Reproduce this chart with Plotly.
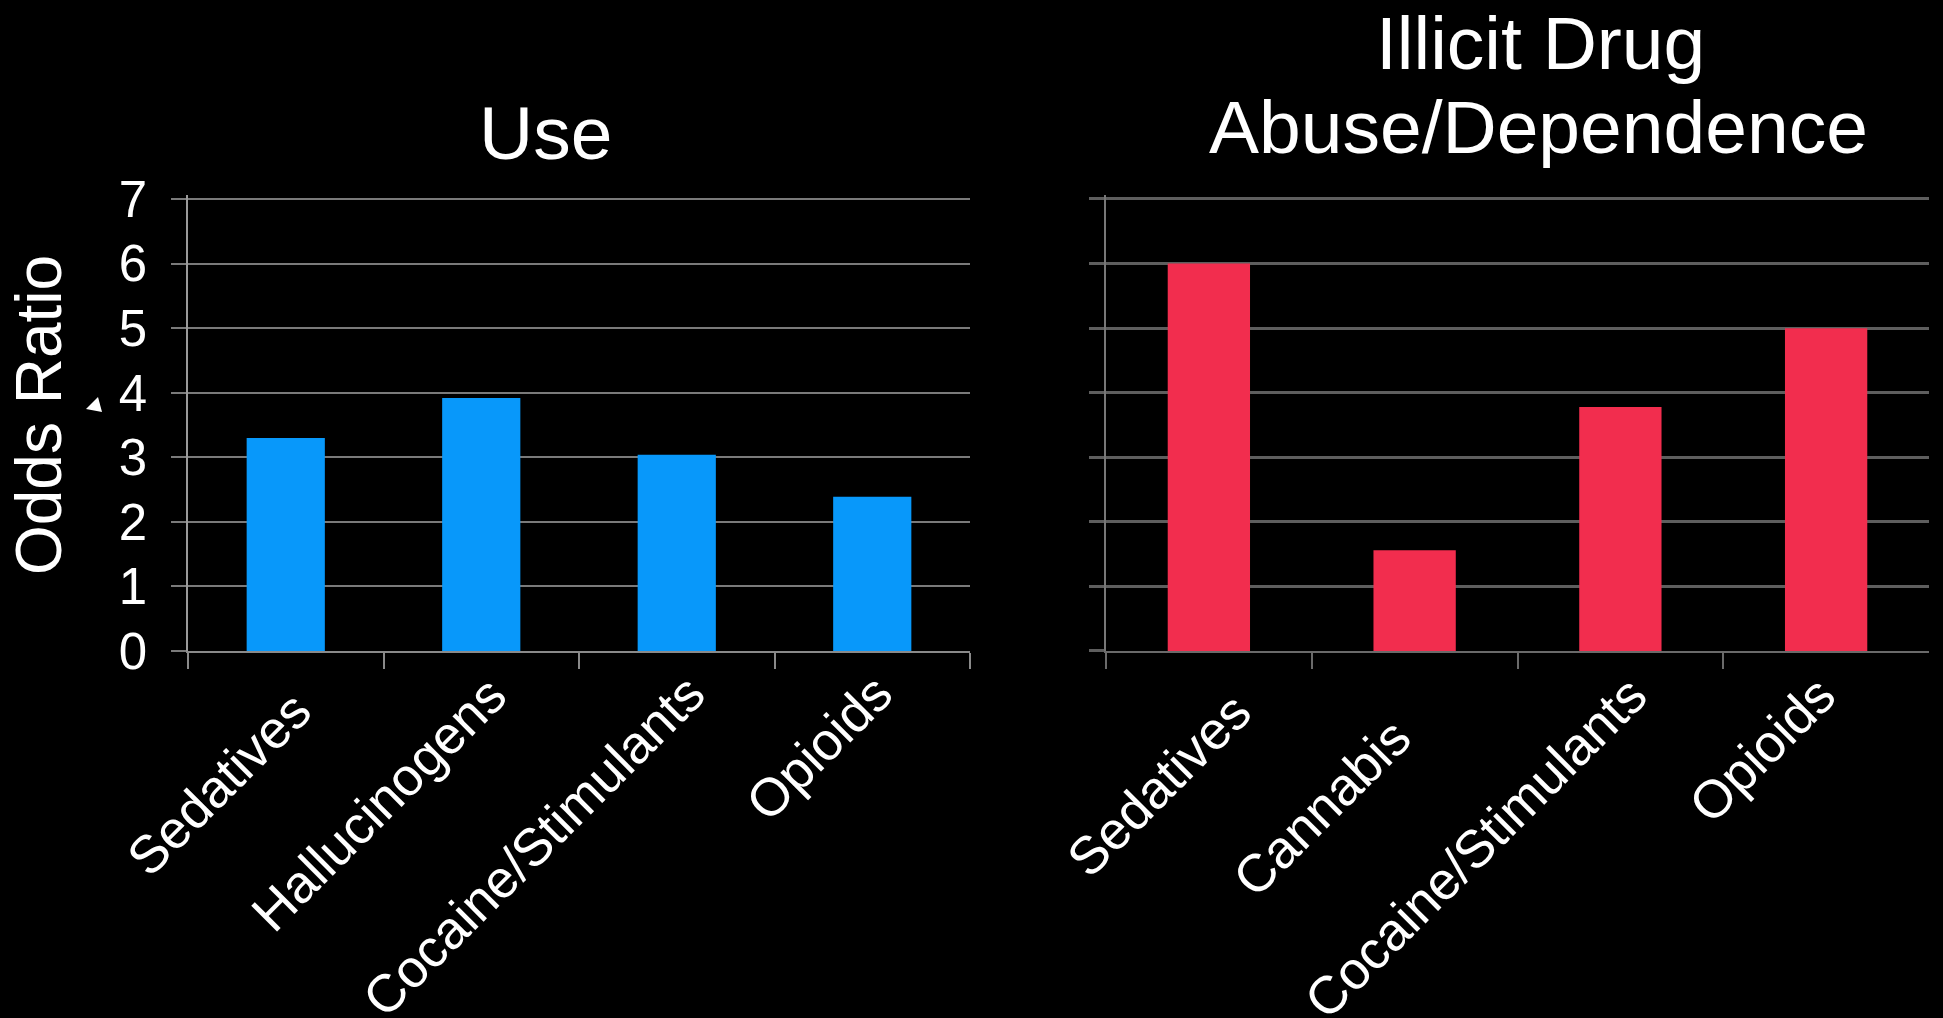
import plotly.graph_objects as go

# Odds ratios by substance class
use_categories = ["Sedatives", "Hallucinogens", "Cocaine/Stimulants", "Opioids"]
use_values = [3.3, 3.92, 3.04, 2.39]

abuse_categories = ["Sedatives", "Cannabis", "Cocaine/Stimulants", "Opioids"]
abuse_values = [6.0, 1.56, 3.78, 5.0]

y_ticks = [0, 1, 2, 3, 4, 5, 6, 7]

# slanted category label placement: (shift right of category centre, top edge) in px
use_label_place = [(30, 697), (30, 682), (33, 680), (25, 680)]
abuse_label_place = [(47, 698), (1, 725), (31, 682), (14, 682)]

W, H = 1943, 1018
FONT = "Liberation Sans, Arial, Helvetica, sans-serif"
LABEL_SIZE = 53


def px_x(p):
    return p / W


def px_y(p):
    return 1 - p / H


fig = go.Figure()

fig.add_trace(go.Bar(
    x=use_categories, y=use_values,
    marker=dict(color="#0898FA", line=dict(width=0)),
    xaxis="x", yaxis="y", width=0.4, showlegend=False,
))
fig.add_trace(go.Bar(
    x=abuse_categories, y=abuse_values,
    marker=dict(color="#F22D4E", line=dict(width=0)),
    xaxis="x2", yaxis="y2", width=0.4, showlegend=False,
))

# value axis: 0 sits at 651 px, 7 at 199 px; a little headroom keeps the top gridline drawn
unit_px = (651 - 199) / 7
y_top = 7.06
y_dom = [px_y(651), px_y(651 - y_top * unit_px)]

common_x = dict(
    type="category", showgrid=False, showline=True, linewidth=2,
    ticks="outside", tickson="boundaries", ticklen=16, tickwidth=1.5,
    showticklabels=False, zeroline=False, fixedrange=True, automargin=False,
)
common_y = dict(
    range=[0, y_top], tickvals=y_ticks, showgrid=True, zeroline=False,
    ticks="outside", ticklen=15, fixedrange=True, automargin=False,
)

fig.update_layout(
    width=W, height=H,
    margin=dict(l=0, r=0, t=0, b=0),
    paper_bgcolor="black", plot_bgcolor="black",
    bargap=0.6,
    xaxis=dict(common_x, domain=[px_x(188), px_x(970)], anchor="y",
               range=[-0.5, len(use_categories) - 0.5],
               linecolor="#8a8a8a", tickcolor="#8a8a8a"),
    yaxis=dict(common_y, domain=y_dom, anchor="x",
               gridcolor="#7a7a7a", gridwidth=2, tickcolor="#7a7a7a", tickwidth=2,
               showline=True, linecolor="#9a9a9a", linewidth=1.5,
               showticklabels=True, ticklabelstandoff=14,
               tickfont=dict(family=FONT, size=51, color="white")),
    xaxis2=dict(common_x, domain=[px_x(1106), px_x(1929)], anchor="y2",
                range=[-0.5, len(abuse_categories) - 0.5],
                linecolor="#6a6a6a", tickcolor="#6a6a6a"),
    yaxis2=dict(common_y, domain=y_dom, anchor="x2",
                gridcolor="#5e5e5e", gridwidth=3, tickcolor="#5e5e5e", tickwidth=3,
                showline=True, linecolor="#777777", linewidth=1.5,
                showticklabels=False),
)

# slanted category labels, attached to each category on its own axis
for xref, cats, places in (("x", use_categories, use_label_place),
                           ("x2", abuse_categories, abuse_label_place)):
    for cat, (dx, top) in zip(cats, places):
        fig.add_annotation(
            text=cat, x=cat, xref=xref, y=px_y(top - 20), yref="paper",
            xshift=dx + 9, xanchor="right", yanchor="top", textangle=-45,
            showarrow=False, font=dict(family=FONT, size=LABEL_SIZE, color="white"),
        )

annotations = [
    dict(text="Use", x=px_x(545), y=px_y(133), size=75),
    dict(text="Illicit Drug", x=px_x(1540), y=px_y(43), size=75),
    dict(text="Abuse/Dependence", x=px_x(1538), y=px_y(127), size=75),
]
for a in annotations:
    fig.add_annotation(
        text=a["text"], x=a["x"], y=a["y"], xref="paper", yref="paper",
        xanchor="center", yanchor="middle", showarrow=False,
        font=dict(family=FONT, size=a["size"], color="white"),
    )

fig.add_annotation(
    text="Odds Ratio", x=px_x(39), y=px_y(415), xref="paper", yref="paper",
    xanchor="center", yanchor="middle", showarrow=False, textangle=-90,
    font=dict(family=FONT, size=64, color="white"),
)

# small pointer glyph beside the value axis
tri = [(98, 397), (86, 409), (102, 412)]
path = "M " + " L ".join(f"{px_x(a):.5f},{px_y(b):.5f}" for a, b in tri) + " Z"
fig.add_shape(type="path", path=path, xref="paper", yref="paper",
              fillcolor="white", line=dict(width=0))

fig.write_html("out.html")
